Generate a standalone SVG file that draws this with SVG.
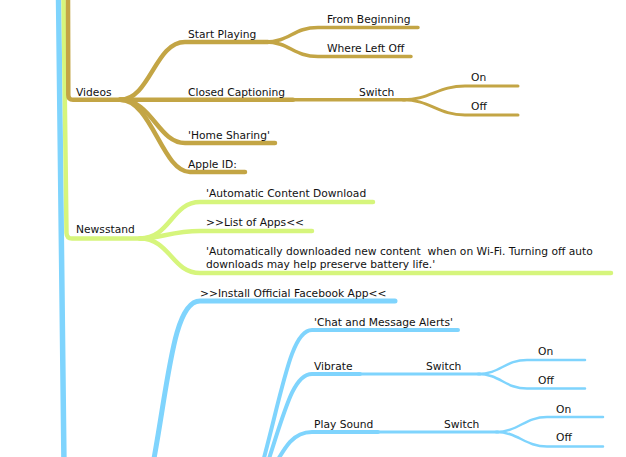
<svg xmlns="http://www.w3.org/2000/svg" width="626" height="457" viewBox="0 0 626 457">
<style>
text{font-family:"DejaVu Sans","Liberation Sans",sans-serif;font-size:10.7px;fill:#111;white-space:pre}
.l{fill:none;stroke-linecap:round;stroke-linejoin:round}
.g{stroke:#c3a545}
.y{stroke:#d6f57c}
.b{stroke:#7fd4fd}
</style>
<rect width="626" height="457" fill="#fff"/>
<g id="connectors">
<path class="l b" stroke-width="5.5" d="M58.5,-5 L64,465"/>
<path class="l y" stroke-width="4.5" d="M63.5,-5 L66.5,233 Q66.8,238.5 72,238.5 L145,238.5"/>
<path class="l g" stroke-width="4.5" d="M68,-5 L68.3,95 Q68.3,99.8 73,99.8 L128,99.8"/>
<!-- Videos children -->
<path class="l g" stroke-width="4.5" d="M120,99.8 C150,99.8 155,42 185,42 L268,42"/>
<path class="l g" stroke-width="3.5" d="M265,42 C290,42 293,27.5 318,27.5 L418,27.5"/>
<path class="l g" stroke-width="3.5" d="M265,42 C290,42 293,56.5 318,56.5 L411,56.5"/>
<path class="l g" stroke-width="4.5" d="M120,99.8 L293,99.8"/>
<path class="l g" stroke-width="3.5" d="M290,99.8 L405,99.8"/>
<path class="l g" stroke-width="3" d="M403,99.8 C430,99.8 438,86 465,86 L518,86"/>
<path class="l g" stroke-width="3" d="M403,99.8 C430,99.8 438,115 465,115 L518,115"/>
<path class="l g" stroke-width="4.5" d="M120,99.8 C152,99.8 158,143 185,143 L275,143"/>
<path class="l g" stroke-width="4.5" d="M120,99.8 C152,99.8 162,172 190,172 L245,172"/>
<!-- Newsstand children -->
<path class="l y" stroke-width="4.5" d="M140,238.5 C170,238.5 172,202 200,202 L373,202"/>
<path class="l y" stroke-width="4.5" d="M140,238.5 C160,238.5 172,231 200,231 L312,231"/>
<path class="l y" stroke-width="4.5" d="M140,238.5 C170,238.5 172,273 200,273 L611,273"/>
<!-- Facebook -->
<path class="l b" stroke-width="5" d="M150,480 C168,390 172,301 200,301 L395,301"/>
<path class="l b" stroke-width="4" d="M258,480 C282,395 290,330 312,330 L458,330"/>
<path class="l b" stroke-width="4" d="M262,480 C284,415 292,374 312,374 L360,374"/>
<path class="l b" stroke-width="3" d="M358,374 L480,374"/>
<path class="l b" stroke-width="2.5" d="M478,374 C500,374 505,360 527,360 L585,360"/>
<path class="l b" stroke-width="2.5" d="M478,374 C500,374 505,388.5 527,388.5 L585,388.5"/>
<path class="l b" stroke-width="4" d="M266,480 C285,447 292,432 312,432 L378,432"/>
<path class="l b" stroke-width="3" d="M376,432 L498,432"/>
<path class="l b" stroke-width="2.5" d="M496,432 C518,432 525,417 547,417 L603,417"/>
<path class="l b" stroke-width="2.5" d="M496,432 C518,432 525,446.5 547,446.5 L603,446.5"/>
</g>
<g id="videos"><text x="76" y="95.5">Videos</text></g>
<g id="start-playing"><text x="188" y="37.5">Start Playing</text></g>
<g id="from-beginning"><text x="327" y="23">From Beginning</text></g>
<g id="where-left-off"><text x="327" y="52">Where Left Off</text></g>
<g id="closed-captioning"><text x="188" y="95.5">Closed Captioning</text></g>
<g id="cc-switch"><text x="359" y="95.5">Switch</text></g>
<g id="cc-on"><text x="471" y="81">On</text></g>
<g id="cc-off"><text x="471" y="110">Off</text></g>
<g id="home-sharing"><text x="188" y="138.5">'Home Sharing'</text></g>
<g id="apple-id"><text x="188" y="167.5">Apple ID:</text></g>
<g id="newsstand"><text x="76" y="233">Newsstand</text></g>
<g id="auto-content"><text x="206" y="197">'Automatic Content Download</text></g>
<g id="list-apps"><text x="206" y="226">&gt;&gt;List of Apps&lt;&lt;</text></g>
<g id="auto-downloaded"><text x="206" y="255">'Automatically downloaded new content  when on Wi-Fi. Turning off auto</text><text x="206" y="268">downloads may help preserve battery life.'</text></g>
<g id="install-facebook"><text x="200" y="297">&gt;&gt;Install Official Facebook App&lt;&lt;</text></g>
<g id="chat-alerts"><text x="314" y="326">'Chat and Message Alerts'</text></g>
<g id="vibrate"><text x="314" y="369.5">Vibrate</text></g>
<g id="vibrate-switch"><text x="426" y="369.5">Switch</text></g>
<g id="vibrate-on"><text x="538" y="355">On</text></g>
<g id="vibrate-off"><text x="538" y="384">Off</text></g>
<g id="play-sound"><text x="314" y="427.5">Play Sound</text></g>
<g id="sound-switch"><text x="444" y="427.5">Switch</text></g>
<g id="sound-on"><text x="556" y="413">On</text></g>
<g id="sound-off"><text x="556" y="441">Off</text></g>
</svg>
